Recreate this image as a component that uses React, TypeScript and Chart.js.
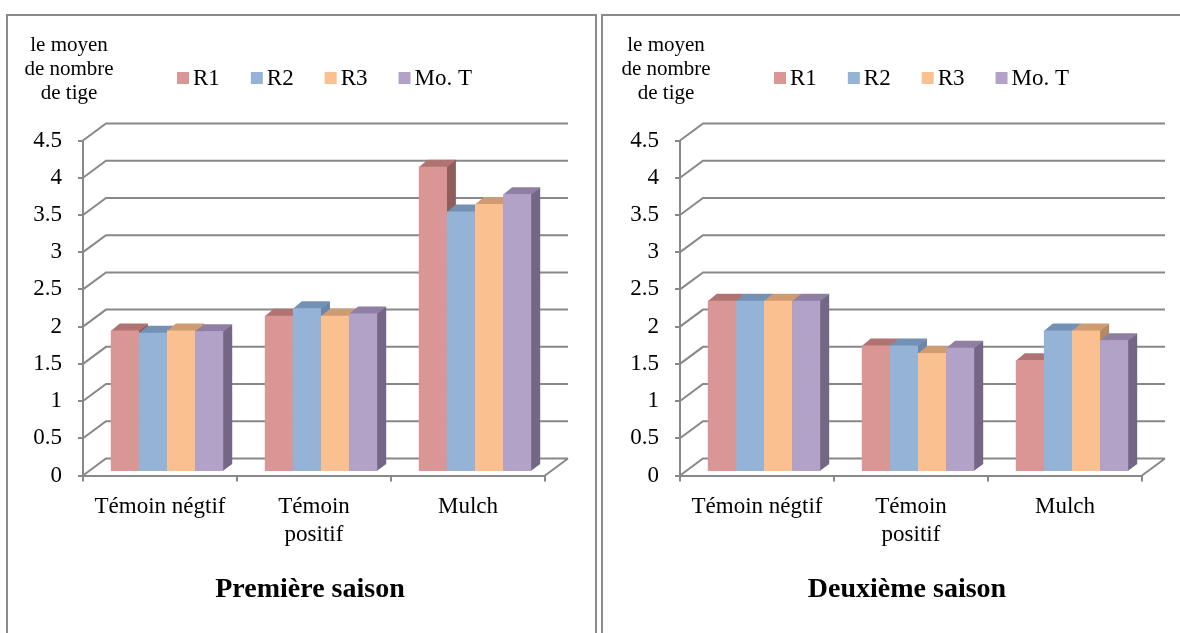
import React, { useEffect, useRef } from 'react';
import { Chart, registerables } from 'chart.js';

Chart.register(...registerables);

const FONT = "'Liberation Serif', 'Times New Roman', serif";
Chart.defaults.font.family = FONT;
Chart.defaults.color = '#000';

// ---- data ----
const categories: (string | string[])[] = ['Témoin négtif', ['Témoin', 'positif'], 'Mulch'];
const seriesNames = ['R1', 'R2', 'R3', 'Mo. T'];

const season1R1 = [1.9, 2.1, 4.1];
const season1R2 = [1.87, 2.2, 3.5];
const season1R3 = [1.9, 2.1, 3.6];
const season1MoT = [1.89, 2.13, 3.73];

const season2R1 = [2.3, 1.7, 1.5];
const season2R2 = [2.3, 1.7, 1.9];
const season2R3 = [2.3, 1.6, 1.9];
const season2MoT = [2.3, 1.67, 1.77];

const yMin = 0;
const yMax = 4.5;
const yStep = 0.5;

const yAxisTitle = ['le moyen', 'de nombre', 'de tige'];
const panelTitles = ['Première saison', 'Deuxième saison'];

// ---- style ----
const frontColors = ['#D99694', '#95B3D7', '#FAC090', '#B3A2C7'];
const topColors = ['#AF7472', '#7391B5', '#CF9B70', '#8F80A3'];
const sideColors = ['#8E5D5C', '#6A86A8', '#B58A63', '#736785'];
const GRID = '#888888';

const WALL_DX = 23;
const WALL_DY = 17;
const BAR_SHIFT_X = 7;
const BAR_SHIFT_Y = 3.5;
const BAR_DX = 9;
const BAR_DY = 7;

const threeDPlugin = {
  id: 'threeD',
  beforeDatasetsDraw(chart: any) {
    const { ctx, chartArea, scales } = chart;
    const y = scales.y;
    ctx.save();
    ctx.strokeStyle = GRID;
    ctx.lineWidth = 2;
    ctx.beginPath();
    y.ticks.forEach((t: any) => {
      const py = y.getPixelForValue(t.value);
      ctx.moveTo(chartArea.left, py);
      ctx.lineTo(chartArea.left + WALL_DX, py - WALL_DY);
      ctx.lineTo(chartArea.right + WALL_DX, py - WALL_DY);
    });
    const p0 = y.getPixelForValue(yMin);
    ctx.moveTo(chartArea.right, p0);
    ctx.lineTo(chartArea.right + WALL_DX, p0 - WALL_DY);
    ctx.stroke();
    ctx.restore();
  },
  beforeDatasetDraw() {
    // bars are painted below in back-to-front order
    return false;
  },
  afterDatasetsDraw(chart: any) {
    const { ctx } = chart;
    const items: { bar: any; idx: number }[] = [];
    chart.getSortedVisibleDatasetMetas().forEach((meta: any) => {
      meta.data.forEach((bar: any) => items.push({ bar, idx: meta.index }));
    });
    items.sort((a, b) => a.bar.x - b.bar.x);
    ctx.save();
    ctx.translate(BAR_SHIFT_X, -BAR_SHIFT_Y);
    items.forEach(({ bar, idx }) => {
      const { x, y, base, width } = bar.getProps(['x', 'y', 'base', 'width'], true);
      const l = x - width / 2;
      const r = x + width / 2;
      ctx.fillStyle = sideColors[idx];
      ctx.beginPath();
      ctx.moveTo(r - 0.5, y);
      ctx.lineTo(r + BAR_DX, y - BAR_DY);
      ctx.lineTo(r + BAR_DX, base - BAR_DY);
      ctx.lineTo(r - 0.5, base);
      ctx.closePath();
      ctx.fill();
      ctx.fillStyle = topColors[idx];
      ctx.beginPath();
      ctx.moveTo(l, y + 0.5);
      ctx.lineTo(r, y + 0.5);
      ctx.lineTo(r + BAR_DX, y - BAR_DY);
      ctx.lineTo(l + BAR_DX, y - BAR_DY);
      ctx.closePath();
      ctx.fill();
      bar.draw(ctx);
    });
    ctx.restore();
  },
  afterDraw(chart: any, _args: any, opts: any) {
    const { ctx, chartArea } = chart;
    ctx.save();
    // y axis title
    ctx.fillStyle = '#000';
    ctx.textAlign = 'center';
    ctx.textBaseline = 'alphabetic';
    ctx.font = `21px ${FONT}`;
    yAxisTitle.forEach((line, i) => {
      ctx.fillText(line, chartArea.left - 14, 51 + i * 24);
    });
    // legend
    ctx.font = `23px ${FONT}`;
    ctx.textAlign = 'left';
    let cx = chartArea.left + 94;
    chart.data.datasets.forEach((ds: any, i: number) => {
      ctx.fillStyle = frontColors[i];
      ctx.fillRect(cx, 72, 12, 12);
      ctx.fillStyle = '#000';
      ctx.fillText(ds.label, cx + 16, 85);
      cx += 16 + ctx.measureText(ds.label).width + 31;
    });
    // panel title
    ctx.font = `bold 28px ${FONT}`;
    ctx.textAlign = 'center';
    ctx.fillText(opts.title, (chartArea.left + chartArea.right) / 2 - 4, 597);
    ctx.restore();
  },
};

function Panel({ left, values, title }: { left: number; values: number[][]; title: string }) {
  const ref = useRef<HTMLCanvasElement | null>(null);
  useEffect(() => {
    if (!ref.current) return;
    const chart = new Chart(ref.current, {
      type: 'bar',
      data: {
        labels: categories as any,
        datasets: seriesNames.map((name, i) => ({
          label: name,
          data: values[i],
          backgroundColor: frontColors[i],
          borderWidth: 0,
          clip: false as any,
          barPercentage: 1,
          categoryPercentage: 0.73,
        })),
      },
      options: {
        responsive: false,
        animation: false,
        devicePixelRatio: 1,
        layout: { padding: { left: 23, right: 55, top: 140.5, bottom: 77.5 } },
        plugins: {
          legend: { display: false },
          tooltip: { enabled: false },
          title: { display: false },
          threeD: { title },
        } as any,
        scales: {
          x: {
            afterFit: (s: any) => { s.height = 80; },
            grid: { drawOnChartArea: false, drawTicks: true, tickLength: 6, color: GRID, lineWidth: 2, offset: true },
            border: { color: GRID, width: 2 },
            ticks: { font: { size: 23, family: FONT }, color: '#000', padding: 12, maxRotation: 0, autoSkip: false },
          },
          y: {
            min: yMin,
            max: yMax,
            afterFit: (s: any) => { s.width = 60; },
            grid: { drawOnChartArea: false, drawTicks: true, tickLength: 5, color: GRID, lineWidth: 2 },
            border: { color: GRID, width: 2 },
            ticks: {
              stepSize: yStep,
              font: { size: 23, family: FONT },
              color: '#000',
              padding: 16,
              callback: (v: any) => String(Number(v)),
            },
          },
        },
      },
      plugins: [threeDPlugin],
    });
    return () => chart.destroy();
  }, [values, title]);
  return (
    <canvas
      ref={ref}
      width={600}
      height={633}
      style={{ position: 'absolute', left, top: 0, width: 600, height: 633, display: 'block' }}
    />
  );
}

const season1 = [season1R1, season1R2, season1R3, season1MoT];
const season2 = [season2R1, season2R2, season2R3, season2MoT];

export default function App() {
  return (
    <div style={{ position: 'fixed', left: 0, top: 0, width: 1180, height: 633, overflow: 'hidden', background: '#fff' }}>
      <div style={{ position: 'absolute', left: 6, top: 14, width: 591, height: 700, border: '2px solid #8a8a8a', boxSizing: 'border-box' }} />
      <div style={{ position: 'absolute', left: 601, top: 14, width: 700, height: 700, border: '2px solid #8a8a8a', boxSizing: 'border-box' }} />
      <Panel left={0} values={season1} title={panelTitles[0]} />
      <Panel left={597} values={season2} title={panelTitles[1]} />
    </div>
  );
}
